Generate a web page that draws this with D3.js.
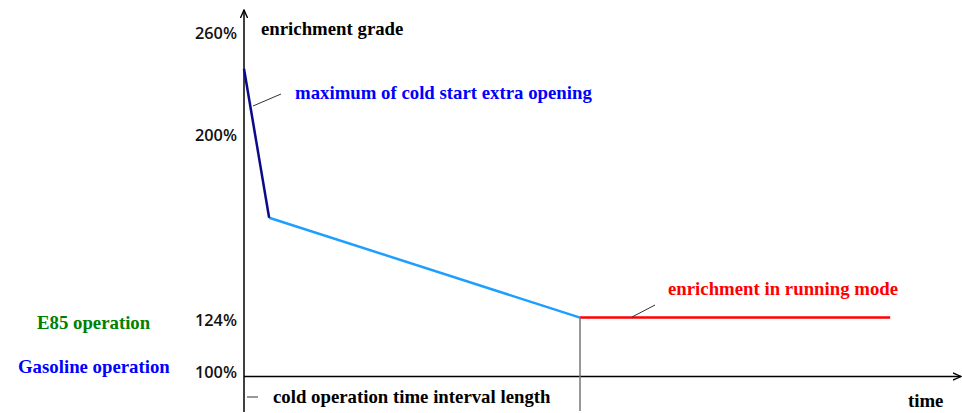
<!DOCTYPE html>
<html><head><meta charset="utf-8">
<script src="https://cdn.jsdelivr.net/npm/d3@7"></script>
<style>body{margin:0;background:#fff}svg{display:block}</style>
</head><body>
<script>
// ---- data ----
const yTickValues = [100, 124, 200, 260];
const yTickLabels = ["100%", "124%", "200%", "260%"];
// cold start extra opening (dark blue)
const coldStartTime = [0, 0.35];
const coldStartValue = [239, 166];
// cold operation decay (light blue)
const coldOpTime = [0.35, 4.68];
const coldOpValue = [166, 125];
// running mode (red)
const runTime = [4.68, 9.0];
const runValue = [125, 125];
const coldEndTime = 4.68;

const W = 962, H = 413;
const svg = d3.select("body").append("svg").attr("width", W).attr("height", H);

const x = d3.scaleLinear().domain([0, 10]).range([244, 962]);
// tick labels in the reference are not evenly spaced: piecewise scale
const y = d3.scaleLinear().domain([100, 124, 200, 260]).range([372, 320, 135, 33]);
const axisY = 376.5;

const serif = "'Liberation Serif', 'Times New Roman', serif";
const sans = "'Open Sans', 'Noto Sans', sans-serif";

// arrow markers
const defs = svg.append("defs");
defs.append("marker").attr("id", "arr").attr("viewBox", "0 0 10 10").attr("refX", 9).attr("refY", 5)
  .attr("markerWidth", 6).attr("markerHeight", 6).attr("orient", "auto")
  .append("path").attr("d", "M0,1 L9,5 L0,9").attr("fill", "none").attr("stroke", "#000").attr("stroke-width", 1.5);

// Y axis line
svg.append("line").attr("x1", x(0)).attr("x2", x(0)).attr("y1", 412).attr("y2", 10)
  .attr("stroke", "#000").attr("stroke-width", 1.5).attr("marker-end", "url(#arr)");
// X axis line
svg.append("line").attr("x1", x(0)).attr("x2", 961).attr("y1", axisY).attr("y2", axisY)
  .attr("stroke", "#000").attr("stroke-width", 1.5).attr("marker-end", "url(#arr)");

// Y tick labels via d3 axis
const yAxis = d3.axisLeft(y).tickValues(yTickValues).tickSize(0).tickPadding(0)
  .tickFormat((d, i) => yTickLabels[i]);
const gy = svg.append("g").attr("transform", `translate(${x(0) - 7},0)`).call(yAxis);
gy.select(".domain").remove();
gy.selectAll("text").attr("font-family", sans).attr("font-size", 16.3).attr("font-weight", 600).attr("fill", "#111");

// lines
const line = d3.line().x(d => x(d[0])).y(d => y(d[1]));
svg.append("path").datum(coldOpTime.map((t, i) => [t, coldOpValue[i]]))
  .attr("d", line).attr("fill", "none").attr("stroke", "#1E9FFF").attr("stroke-width", 2.5);
svg.append("path").datum(coldStartTime.map((t, i) => [t, coldStartValue[i]]))
  .attr("d", line).attr("fill", "none").attr("stroke", "#0A0A8A").attr("stroke-width", 2.5);
svg.append("path").datum(runTime.map((t, i) => [t, runValue[i]]))
  .attr("d", line).attr("fill", "none").attr("stroke", "#FF0000").attr("stroke-width", 2.5);

// vertical marker at end of cold operation
svg.append("line").attr("x1", x(coldEndTime)).attr("x2", x(coldEndTime))
  .attr("y1", y(runValue[0])).attr("y2", 411).attr("stroke", "#777").attr("stroke-width", 1.5);

// leader lines
svg.append("line").attr("x1", 253).attr("y1", 106).attr("x2", 281).attr("y2", 94).attr("stroke", "#333").attr("stroke-width", 1);
svg.append("line").attr("x1", 632).attr("y1", 317).attr("x2", 655).attr("y2", 305).attr("stroke", "#333").attr("stroke-width", 1);
// small dash for interval
svg.append("line").attr("x1", 247).attr("y1", 397).attr("x2", 258).attr("y2", 397).attr("stroke", "#333").attr("stroke-width", 1);

// texts
function txt(t, px, py, color, anchor) {
  svg.append("text").attr("x", px).attr("y", py).attr("font-family", serif).attr("font-weight", "bold")
    .attr("font-size", 18.8).attr("fill", color).attr("text-anchor", anchor || "start").text(t);
}
txt("enrichment grade", 261, 35, "#000");
txt("maximum of cold start extra opening", 295, 99, "#0000FF");
txt("enrichment in running mode", 668, 295, "#FF0000");
txt("E85 operation", 37, 329, "#008000");
txt("Gasoline operation", 18, 373, "#0000FF");
txt("cold operation time interval length", 273, 403, "#000");
txt("time", 908, 407, "#000");
</script>
</body></html>
